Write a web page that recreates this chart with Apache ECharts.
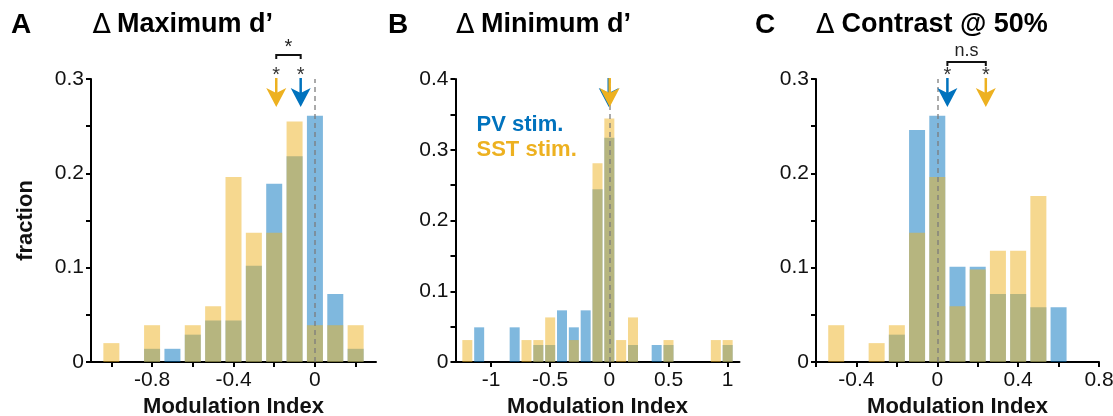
<!DOCTYPE html>
<html><head><meta charset="utf-8">
<script src="https://cdn.jsdelivr.net/npm/echarts@6/dist/echarts.min.js"></script>
<style>html,body{margin:0;padding:0;background:#fff}#c{width:1113px;height:416px}</style>
</head><body><div id="c"></div>
<script>
// ---------- DATA ----------
// Panel A: Δ Maximum d'
const binsA = [-1.0,-0.9,-0.8,-0.7,-0.6,-0.5,-0.4,-0.3,-0.2,-0.1,0.0,0.1,0.2];
const pvA   = [0,0,0.014,0.014,0.029,0.044,0.044,0.102,0.189,0.218,0.261,0.072,0.014];
const sstA  = [0.020,0,0.039,0,0.039,0.059,0.196,0.137,0.137,0.255,0.039,0.039,0.039];
const meanA = {pv:-0.07, sst:-0.19};

// Panel B: Δ Minimum d'
const binsB = [-1.2,-1.1,-1.0,-0.9,-0.8,-0.7,-0.6,-0.5,-0.4,-0.3,-0.2,-0.1,0.0,0.1,0.2,0.3,0.4,0.5,0.6,0.7,0.8,0.9,1.0];
const pvB   = [0,0.049,0,0,0.049,0,0.024,0.024,0.073,0.049,0.073,0.244,0.317,0,0.024,0,0.024,0.024,0,0,0,0,0.024];
const sstB  = [0.031,0,0,0,0,0.031,0.031,0.063,0,0.031,0,0.281,0.344,0.031,0.063,0,0,0.031,0,0,0,0.031,0.031];
const meanB = {pv:-0.005, sst:0.003};

// Panel C: Δ Contrast @ 50%
const binsC = [-0.5,-0.4,-0.3,-0.2,-0.1,0.0,0.1,0.2,0.3,0.4,0.5,0.6];
const pvC   = [0,0,0,0.029,0.246,0.261,0.101,0.101,0.072,0.072,0.058,0.058];
const sstC  = [0.039,0,0.020,0.039,0.137,0.196,0.059,0.098,0.118,0.118,0.176,0];
const meanC = {pv:0.05, sst:0.24};

// axis ticks / labels
const xTicksA = [-1.0,-0.8,-0.6,-0.4,-0.2,0,0.2];
const xLabelsA = [-0.8,-0.4,0];
const xTicksB = [-1,-0.5,0,0.5,1];
const xLabelsB = [-1,-0.5,0,0.5,1];
const xTicksC = [-0.6,-0.4,-0.2,0,0.2,0.4,0.6,0.8];
const xLabelsC = [-0.4,0,0.4,0.8];
const yTicks03 = [0,0.05,0.1,0.15,0.2,0.25,0.3];
const yLabels03 = [0,0.1,0.2,0.3];
const yTicks04 = [0,0.05,0.1,0.15,0.2,0.25,0.3,0.35,0.4];
const yLabels04 = [0,0.1,0.2,0.3,0.4];

const titles = ['Maximum d\u2019','Minimum d\u2019','Contrast @ 50%'];
const letters = ['A','B','C'];
const legendNames = ['PV stim.','SST stim.'];
const sigA = '*';
const sigC = 'n.s';

// ---------- STYLE ----------
const BLUE = '#0072BD', YELLOW = '#EDB120';
const FONT = '"Liberation Sans", Arial, Helvetica, sans-serif';
const fmt = v => String(Math.round(v*100)/100);

const grids = [
  {left:91,  top:79, width:285, height:283, containLabel:false, outerBoundsMode:'none'},
  {left:455.5, top:79, width:284, height:283, containLabel:false, outerBoundsMode:'none'},
  {left:816, top:79, width:283, height:283, containLabel:false, outerBoundsMode:'none'}
];

function xAxisCfg(g, min, max, ticks, labels){
  return {type:'value', gridIndex:g, min, max,
    axisLine:{show:true,onZero:false,lineStyle:{color:'#000',width:2}},
    splitLine:{show:false},
    axisTick:{show:true,length:5,lineStyle:{color:'#000',width:2},customValues:ticks},
    axisLabel:{customValues:labels,fontSize:21,color:'#111',fontFamily:FONT,margin:8,formatter:fmt},
    name:'Modulation Index',nameLocation:'middle',nameGap:29,
    nameTextStyle:{fontSize:22,fontWeight:'bold',color:'#111',fontFamily:FONT}};
}
function yAxisCfg(g, max, ticks, labels, name){
  const o = {type:'value', gridIndex:g, min:0, max,
    axisLine:{show:true,onZero:false,lineStyle:{color:'#000',width:2}},
    splitLine:{show:false},
    axisTick:{show:true,length:5,lineStyle:{color:'#000',width:2},customValues:ticks},
    axisLabel:{customValues:labels,fontSize:21,color:'#111',fontFamily:FONT,margin:7,formatter:fmt}};
  if(name){ o.name=name; o.nameLocation='middle'; o.nameGap=54;
    o.nameTextStyle={fontSize:22,fontWeight:'bold',color:'#111',fontFamily:FONT}; }
  return o;
}
function bars(g, bins, vals, color, bw, withZero){
  const s = {type:'bar', xAxisIndex:g, yAxisIndex:g, silent:true,
    data: bins.map((b,i)=>[b, vals[i]]), barWidth:bw, barGap:'-100%',
    itemStyle:{color, opacity:0.5}};
  if(withZero){
    s.markLine = {silent:true, symbol:'none', label:{show:false}, animation:false,
      lineStyle:{type:[5,4], color:'#7a7a7a', width:1.5, opacity:0.85},
      data:[{xAxis:0}]};
  }
  return s;
}
function arrows(g, mean, top, stars){
  return {type:'custom', xAxisIndex:g, yAxisIndex:g, silent:true, clip:false, z:10,
    data:[[mean.pv, top, 0],[mean.sst, top, 1]],
    renderItem:(params, api)=>{
      const p = api.coord([api.value(0), api.value(1)]);
      const x = p[0], y = p[1];
      const col = api.value(2)===0 ? BLUE : YELLOW;
      const ch = [
        {type:'line', shape:{x1:x,y1:y-1,x2:x,y2:y+14}, style:{stroke:col,lineWidth:2.5}},
        {type:'polygon', shape:{points:[[x-10,y+9],[x,y+14],[x+10,y+9],[x,y+28]]}, style:{fill:col}}
      ];
      if(stars){
        ch.push({type:'text', x:x, y:y-4, style:{text:'*', font:'20px '+FONT, fill:'#333', textAlign:'center', textVerticalAlign:'middle'}});
      }
      return {type:'group', children:ch};
    }};
}
function bracket(g, x1, x2, top, label, off, loff){
  return {type:'custom', xAxisIndex:g, yAxisIndex:g, silent:true, clip:false, z:10,
    data:[[x1, x2, top]],
    renderItem:(params, api)=>{
      const a = api.coord([api.value(0), api.value(2)]);
      const b = api.coord([api.value(1), api.value(2)]);
      const y = a[1] - off;
      return {type:'group', children:[
        {type:'polyline', shape:{points:[[a[0],y+4],[a[0],y],[b[0],y],[b[0],y+4]]}, style:{stroke:'#111',lineWidth:2,fill:null}},
        {type:'text', x:(a[0]+b[0])/2, y:a[1]-loff, style:{text:label, font:(label==='*'?'20px ':'18px ')+FONT, fill:'#222', textAlign:'center', textVerticalAlign:'middle'}}
      ]};
    }};
}

const graphics = [];
const letterX = [11, 388, 755];
const deltaX = [92.5, 456, 816];
const titleX = [117, 481, 841.5];
for(let i=0;i<3;i++){
  graphics.push({type:'text', x:letterX[i], y:25, style:{text:letters[i], font:'bold 28px '+FONT, fill:'#000', textVerticalAlign:'middle'}});
  graphics.push({type:'text', x:deltaX[i], y:26, style:{text:'\u0394', font:'27px "DejaVu Sans", sans-serif', fill:'#000', textVerticalAlign:'middle'}});
  graphics.push({type:'text', x:titleX[i], y:25, style:{text:titles[i], font:'bold 27px '+FONT, fill:'#000', textVerticalAlign:'middle'}});
}
graphics.push({type:'text', x:476.5, y:125, style:{text:legendNames[0], font:'bold 22px '+FONT, fill:BLUE, textVerticalAlign:'middle'}});
graphics.push({type:'text', x:476.5, y:150, style:{text:legendNames[1], font:'bold 22px '+FONT, fill:YELLOW, textVerticalAlign:'middle'}});

const chart = echarts.init(document.getElementById('c'), null, {renderer:'canvas'});
chart.setOption({
  animation:false,
  backgroundColor:'#fff',
  grid: grids,
  xAxis:[xAxisCfg(0,-1.1,0.3,xTicksA,xLabelsA), xAxisCfg(1,-1.3,1.1,xTicksB,xLabelsB), xAxisCfg(2,-0.6,0.8,xTicksC,xLabelsC)],
  yAxis:[yAxisCfg(0,0.3,yTicks03,yLabels03,'fraction'), yAxisCfg(1,0.4,yTicks04,yLabels04,null), yAxisCfg(2,0.3,yTicks03,yLabels03,null)],
  series:[
    bars(0,binsA,pvA,BLUE,16,false), bars(0,binsA,sstA,YELLOW,16,true),
    bars(1,binsB,pvB,BLUE,10,false), bars(1,binsB,sstB,YELLOW,10,true),
    bars(2,binsC,pvC,BLUE,16,false), bars(2,binsC,sstC,YELLOW,16,true),
    arrows(0, meanA, 0.3, true), bracket(0, meanA.sst, meanA.pv, 0.3, sigA, 24, 32),
    arrows(1, meanB, 0.4, false),
    arrows(2, meanC, 0.3, true), bracket(2, meanC.pv, meanC.sst, 0.3, sigC, 17, 28)
  ],
  graphic: graphics
});
</script></body></html>
